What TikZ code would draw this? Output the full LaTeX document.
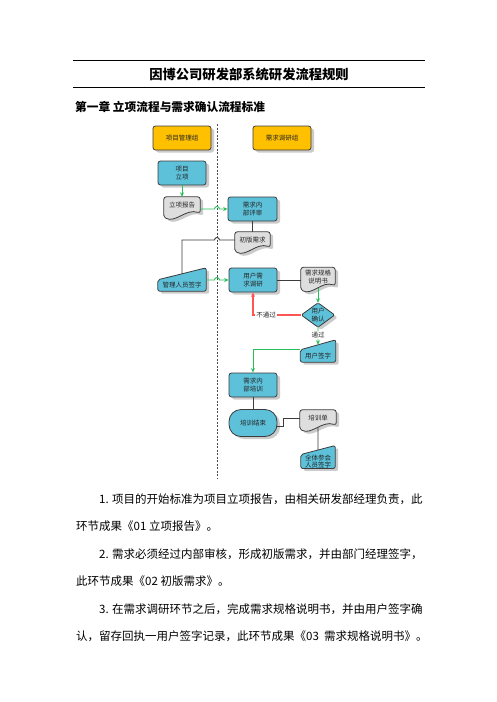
\documentclass[tikz,border=0pt]{standalone}
\usepackage{fontspec}
\setmainfont{Noto Sans CJK SC}
\usetikzlibrary{calc,shadows,arrows.meta}
\pgfdeclarelayer{background}
\pgfsetlayers{background,main}
\definecolor{lorange}{RGB}{255,192,0}
\definecolor{lblue}{RGB}{92,193,217}
\definecolor{lgrey}{RGB}{222,222,222}
\definecolor{edgec}{RGB}{60,60,60}
\definecolor{lgreen}{RGB}{40,190,90}
\definecolor{lred}{RGB}{255,85,85}
\newcommand\maninput[2]{%
  \coordinate (#1-ne) at ([yshift=#2]#1.north east);
  \coordinate (#1-top) at ($(#1.north west)!0.5!(#1-ne)$);
  \begin{pgfonlayer}{background}
  \path[minline] (#1.south west) -- (#1.north west) -- (#1-ne) -- (#1.south east) -- cycle;
  \end{pgfonlayer}}
\newcommand\docoutline[1]{%
  \begin{pgfonlayer}{background}
  \path[docline] ([yshift=-3pt]#1.south west) -- (#1.north west) -- (#1.north east) -- ([yshift=1pt]#1.south east)
    .. controls ($(#1.south west)!0.62!(#1.south east)+(0pt,6pt)$) and ($(#1.south west)!0.32!(#1.south east)+(0pt,-9pt)$) .. ([yshift=-3pt]#1.south west) -- cycle;
  \end{pgfonlayer}}
\newcommand\diamondoutline[1]{%
  \begin{pgfonlayer}{background}
  \path[minline, rounded corners=1.5pt] (#1.north) -- (#1.east) -- (#1.south) -- (#1.west) -- cycle;
  \end{pgfonlayer}}
\begin{document}
\begin{tikzpicture}[x=1pt,y=-1pt,
  shad/.style={drop shadow={shadow xshift=3pt,shadow yshift=-2.5pt,fill=black!45,opacity=0.45}},
  lbl/.style={font=\fontsize{6.5}{8.5}\selectfont, align=center, text=black!85},
  lanehead/.style={lbl, shad, draw=edgec, line width=0.8pt, fill=lorange, rounded corners=2.5pt, minimum width=58pt, minimum height=24pt, inner sep=0pt},
  proc/.style={lbl, shad, draw=edgec, line width=0.8pt, fill=lblue, rounded corners=2.5pt, minimum width=48pt, minimum height=24pt, inner sep=0pt},
  term/.style={proc, rounded corners=12pt, minimum height=27pt},
  txtbox/.style={lbl, inner sep=0pt},
  docline/.style={shad, draw=edgec, line width=0.8pt, fill=lgrey, rounded corners=2.5pt},
  minline/.style={shad, draw=edgec, line width=0.8pt, fill=lblue, rounded corners=2pt},
  garrow/.style={draw=lgreen, line width=0.9pt, -{Stealth[length=4.5pt,width=4pt]}},
  rarrow/.style={draw=lred, line width=1.2pt, -{Stealth[length=4.5pt,width=4pt]}},
  gline/.style={draw=edgec, line width=0.9pt},
  lanesep/.style={draw=black!70, line width=0.6pt, dash pattern=on 2pt off 1.5pt},
  onlbl/.style={lbl, fill=white, inner sep=1pt},
  body/.style={font=\fontsize{11.5}{13}\selectfont, anchor=west, inner sep=0pt},
]
\begin{pgfonlayer}{background}
\fill[white] (0,0) rectangle (496,702);
\end{pgfonlayer}
\path[use as bounding box] (0,0) rectangle (496,702);

% header
\coordinate (r1a) at (73,60); \coordinate (r1b) at (425,60);
\coordinate (r2a) at (73,87); \coordinate (r2b) at (425,87);
\draw[line width=0.9pt] (r1a) -- (r1b);
\draw[line width=0.9pt] (r2a) -- (r2b);
\node[font=\bfseries\fontsize{13.3}{15}\selectfont] (title) at (249,74) {因博公司研发部系统研发流程规则};
\node[font=\bfseries\fontsize{11.7}{14}\selectfont, anchor=west, inner sep=0pt] (chap) at (75,107) {第一章 立项流程与需求确认流程标准};

% lane separator
\coordinate (lt) at (217,124);
\coordinate (lbot) at (217,478);
\draw[lanesep] (lt) -- (lbot);

% lane headers
\node[lanehead] (h1) at (182,138) {项目管理组};
\node[lanehead] (h2) at (282,138) {需求调研组};

% nodes
\node[proc] (pj) at (182,173) {项目\\立项};
\node[txtbox, minimum width=36pt, minimum height=17pt] (lb) at (182,205.5) {立项报告};
\docoutline{lb}
\node[proc, minimum width=49pt] (rv) at (252.5,209) {需求内\\部评审};
\node[txtbox, minimum width=35pt, minimum height=16pt] (cb) at (252.5,240) {初版需求};
\docoutline{cb}
\node[txtbox, minimum width=48pt, minimum height=11pt] (mg) at (182,285.5) {管理人员签字};
\maninput{mg}{12pt}
\node[proc] (ur) at (253,280) {用户需\\求调研};
\node[txtbox, minimum width=34pt, minimum height=19pt] (gs) at (318,277) {需求规格\\说明书};
\docoutline{gs}
\node[txtbox, minimum width=33pt, minimum height=24pt] (dc) at (318,315) {用户\\确认};
\diamondoutline{dc}
\node[txtbox, minimum width=35pt, minimum height=12pt] (us) at (318,356) {用户签字};
\maninput{us}{10pt}
\node[proc] (tr) at (253,385) {需求内\\部培训};
\node[term] (te) at (253,423) {培训结束};
\node[txtbox, minimum width=36pt, minimum height=16pt] (px) at (318,418) {培训单};
\docoutline{px}
\node[txtbox, minimum width=34pt, minimum height=13pt, font=\fontsize{6.5}{7.5}\selectfont] (qt) at (318,461.5) {全体参会\\人员签字};
\maninput{qt}{9pt}

% connectors
\draw[garrow] (pj.south) -- (lb.north);
\draw[garrow] (lb.east |- rv.west) -- ([xshift=-2.5pt]lt |- rv.west) arc[start angle=180,end angle=0,radius=2.5pt] -- (rv.west);
\draw[gline] (rv.south) -- (cb.north);
\draw[gline] (cb.west) -- ([xshift=2.5pt]lt |- cb.west) arc[start angle=0,end angle=180,radius=2.5pt] -- (cb.west -| mg-top) -- (mg-top);
\draw[garrow] (ur.west -| mg.east) -- ([xshift=-2.5pt]lt |- ur.west) arc[start angle=180,end angle=0,radius=2.5pt] -- (ur.west);
\draw[gline] (ur.east) -- (ur.east -| gs.west);
\draw[garrow] ([yshift=-1.5pt]gs.south) -- (dc.north);
\draw[rarrow] (dc.west) -- node[onlbl, pos=0.73] (ng) {不通过} (dc.west -| ur.south) -- (ur.south);
\draw[garrow] (dc.south) -- node[onlbl, pos=0.45] (ok) {通过} (us-top);
\draw[garrow] (us.north west) -| (tr.north);
\draw[gline] (tr.south) -- (te.north);
\draw[gline] ([yshift=-3pt]te.east) -- ++(6,0) |- (px.west);
\draw[gline] ([yshift=-1.5pt]px.south) -- (qt-top);

% body text
\node[body] (t1) at (99,499) {1. 项目的开始标准为项目立项报告，由相关研发部经理负责，此};
\node[body] (t2) at (76,526.5) {环节成果《01 立项报告》。};
\node[body] (t3) at (99,554) {2. 需求必须经过内部审核，形成初版需求，并由部门经理签字，};
\node[body] (t4) at (76,581.5) {此环节成果《02 初版需求》。};
\node[body] (t5) at (99,609) {3. 在需求调研环节之后，完成需求规格说明书，并由用户签字确};
\node[body] (t6) at (76,636.5) {认，留存回执一用户签字记录，此环节成果《03\ \ 需求规格说明书》。};
\end{tikzpicture}
\end{document}
